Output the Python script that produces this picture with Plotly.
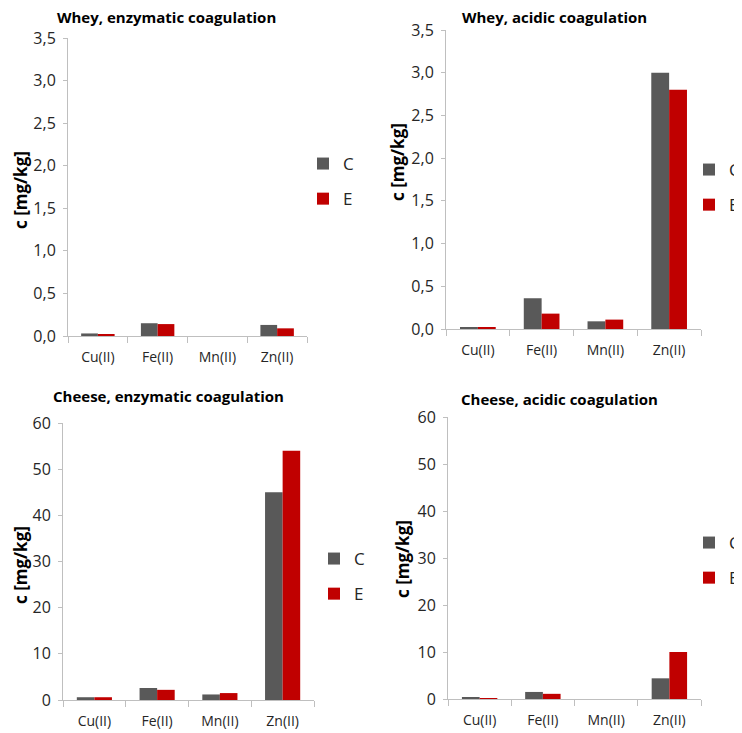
import plotly.graph_objects as go

METALS = ["Cu(II)", "Fe(II)", "Mn(II)", "Zn(II)"]

# values, mg/kg
whey_enz_C = [0.03, 0.15, 0.0, 0.13]
whey_enz_E = [0.02, 0.14, 0.0, 0.09]
whey_acid_C = [0.02, 0.36, 0.09, 3.0]
whey_acid_E = [0.02, 0.18, 0.11, 2.8]
cheese_enz_C = [0.6, 2.6, 1.2, 45.0]
cheese_enz_E = [0.6, 2.2, 1.5, 54.0]
cheese_acid_C = [0.3, 1.5, 0.0, 4.4]
cheese_acid_E = [0.2, 1.1, 0.0, 10.0]

TITLES = ["Whey, enzymatic coagulation", "Whey, acidic coagulation",
          "Cheese, enzymatic coagulation", "Cheese, acidic coagulation"]

GREY = "#595959"
RED = "#C00000"
AXIS = "#BFBFBF"
TXT = "#262626"
FONT = "Open Sans"

W, H = 742, 733
OFF = 8  # page body margin shifts the figure by 8px

def px(x):
    return (x - OFF) / W

def py(y):
    return 1 - (y - OFF) / H

# ── panel geometry (pixels in the 742x733 screenshot) ─────
panels = [
    dict(C=whey_enz_C, E=whey_enz_E, x0=68, x1=307, ytop=38, ybot=336,
         yr=[0, 3.5], dt=0.5, fmt=".1f", title_x=166, title_y=17,
         ylab_x=20, ylab_y=190, leg_x=303, leg_y=146),
    dict(C=whey_acid_C, E=whey_acid_E, x0=446, x1=701, ytop=30, ybot=329,
         yr=[0, 3.5], dt=0.5, fmt=".1f", title_x=554, title_y=17,
         ylab_x=397, ylab_y=162, leg_x=689, leg_y=152),
    dict(C=cheese_enz_C, E=cheese_enz_E, x0=63, x1=314, ytop=423, ybot=700,
         yr=[0, 60], dt=10, fmt="d", title_x=168, title_y=396,
         ylab_x=20, ylab_y=565, leg_x=314, leg_y=541),
    dict(C=cheese_acid_C, E=cheese_acid_E, x0=448, x1=701, ytop=417, ybot=699,
         yr=[0, 60], dt=10, fmt="d", title_x=559, title_y=399,
         ylab_x=402, ylab_y=559, leg_x=689, leg_y=525),
]

fig = go.Figure()
annotations = []

for i, p in enumerate(panels):
    n = "" if i == 0 else str(i + 1)
    leg = "legend" + n
    for name, vals, col in [("C", p["C"], GREY), ("E", p["E"], RED)]:
        fig.add_trace(go.Bar(
            x=METALS, y=vals, name=name, marker_color=col,
            marker_line_width=0, xaxis="x" + n, yaxis="y" + n,
            legend=leg, legendgroup=name + n,
        ))

    fig.update_layout({
        "xaxis" + n: dict(
            domain=[px(p["x0"]), px(p["x1"])], anchor="y" + n,
            showline=True, linecolor=AXIS, linewidth=1,
            ticks="outside", tickson="boundaries", ticklen=6, tickcolor=AXIS,
            ticklabelstandoff=8,
            tickfont=dict(family=FONT, size=14, color=TXT),
            showgrid=False, fixedrange=True, automargin=False,
        ),
        "yaxis" + n: dict(
            domain=[py(p["ybot"]), py(p["ytop"])], anchor="x" + n,
            range=p["yr"], dtick=p["dt"], tick0=0, tickformat=p["fmt"],
            showline=True, linecolor=AXIS, linewidth=1,
            ticks="outside", ticklen=4, tickcolor=AXIS,
            ticklabelstandoff=4,
            tickfont=dict(family=FONT, size=16, color=TXT),
            showgrid=False, zeroline=False, automargin=False,
        ),
        leg: dict(
            x=px(p["leg_x"]), y=py(p["leg_y"]), xanchor="left", yanchor="top",
            font=dict(family=FONT, size=17, color=TXT),
            traceorder="grouped", tracegroupgap=10, bgcolor="rgba(0,0,0,0)",
        ),
    })

    annotations.append(dict(
        text="<b>" + TITLES[i] + "</b>", xref="paper", yref="paper",
        x=px(p["title_x"]), y=py(p["title_y"]), xanchor="center", yanchor="middle",
        showarrow=False, font=dict(family=FONT, size=15, color="#000000"),
    ))
    annotations.append(dict(
        text="<b>c [mg/kg]</b>", xref="paper", yref="paper", textangle=-90,
        x=px(p["ylab_x"]), y=py(p["ylab_y"]), xanchor="center", yanchor="middle",
        showarrow=False, font=dict(family=FONT, size=17, color="#000000"),
    ))

fig.update_layout(
    width=W, height=H,
    margin=dict(l=0, r=0, t=0, b=0),
    paper_bgcolor="white", plot_bgcolor="white",
    barmode="group", bargap=0.44, bargroupgap=0,
    separators=", ",
    annotations=annotations,
)

fig.write_html("out.html")
